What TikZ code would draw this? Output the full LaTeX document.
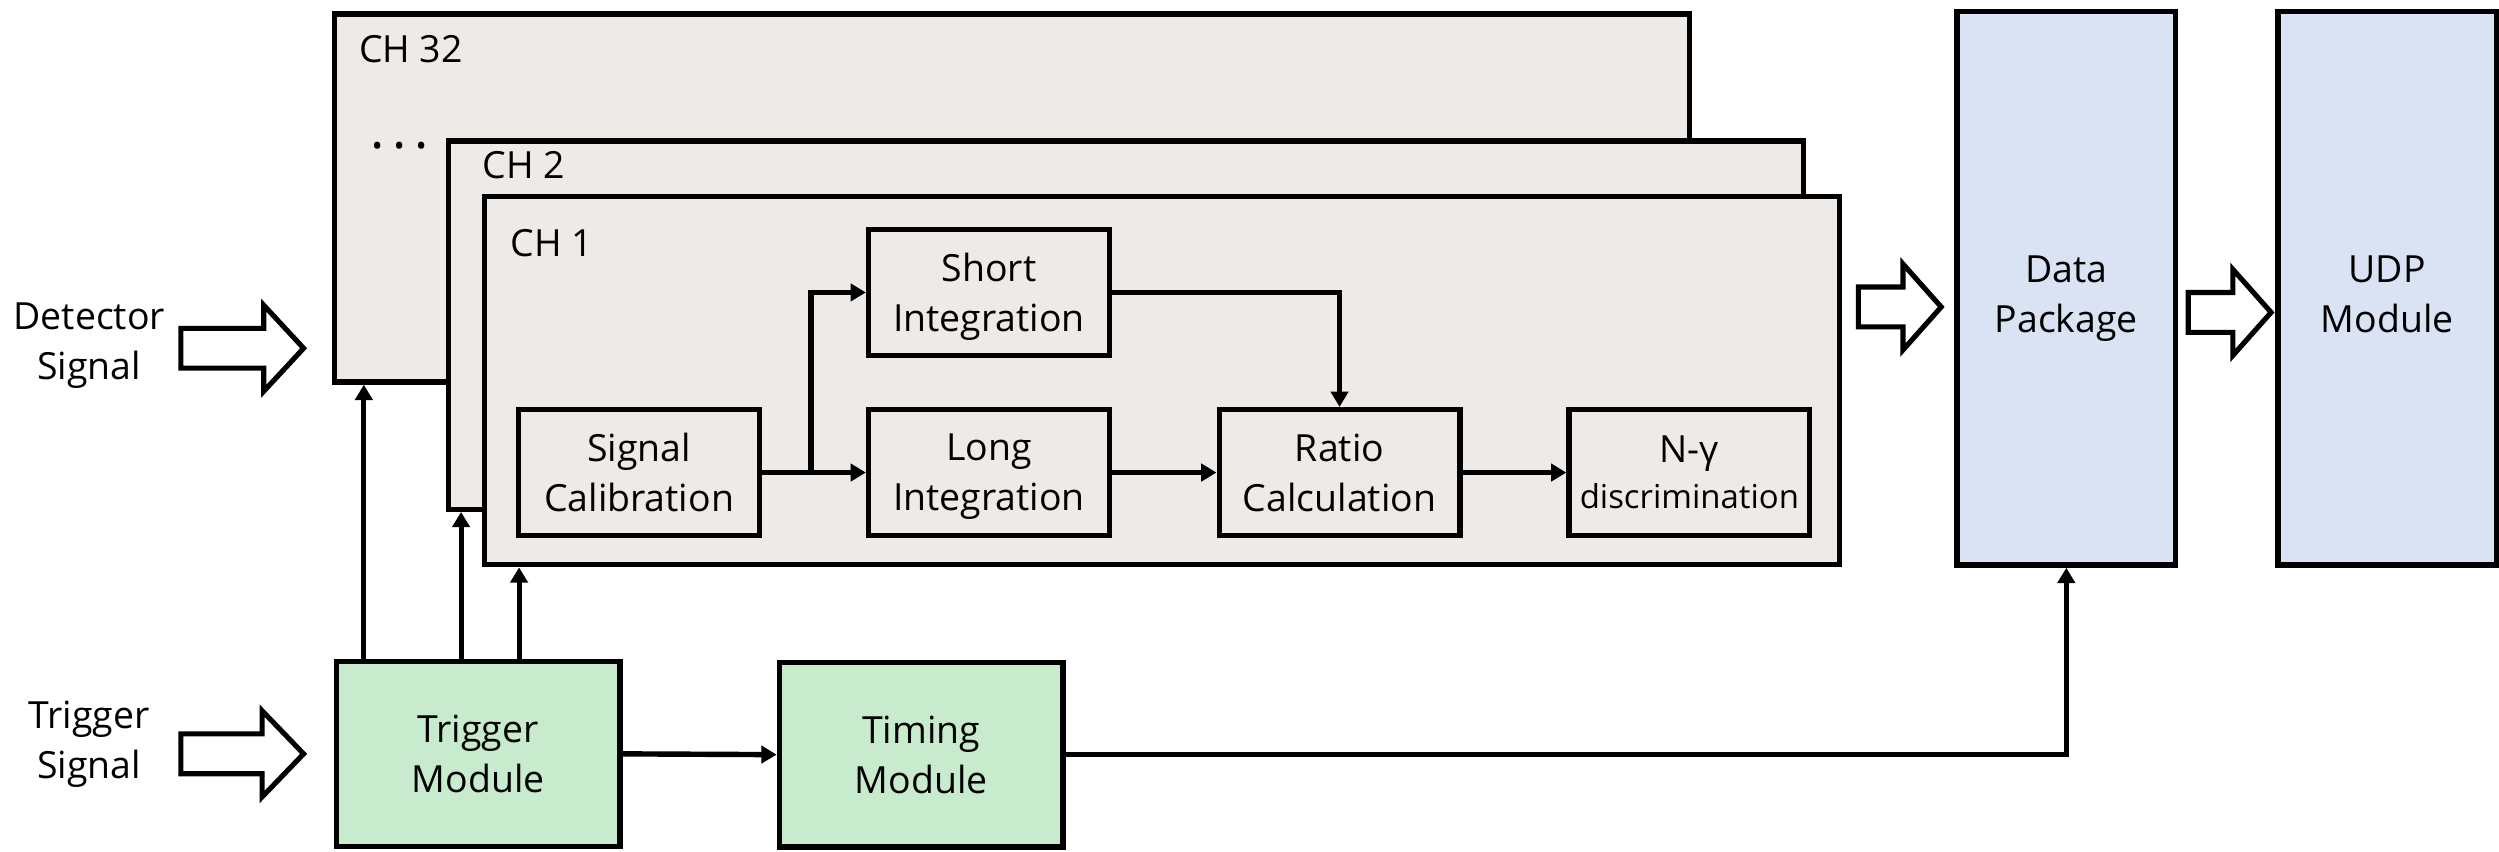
\documentclass[tikz,border=0pt]{standalone}
\usepackage{fontspec}
\setmainfont{Open Sans}
\usetikzlibrary{arrows.meta,calc}
\definecolor{chfill}{HTML}{EDEAE7}
\definecolor{pkgfill}{HTML}{DAE3F3}
\definecolor{trgfill}{HTML}{C7EBCC}
\tikzset{
  box/.style={draw, line width=0.85mm, align=center, inner sep=0pt, text depth=0pt},
  chbox/.style={box, fill=chfill, minimum width=212.5mm, minimum height=57.75mm},
  stage/.style={box, fill=chfill, minimum width=37.75mm, minimum height=19.75mm},
  tall/.style={box, fill=pkgfill, minimum width=34.25mm, minimum height=86.875mm},
  module/.style={box, fill=trgfill, minimum width=44.5mm, minimum height=29mm},
  chlabel/.style={anchor=base west, inner sep=0pt},
  lbl/.style={align=center, inner sep=0pt},
  link/.style={line width=0.85mm, -{Triangle[length=2.4mm,width=2.7mm]}},
  trig/.style={line width=0.8mm, -{Triangle[length=2.4mm,width=2.7mm]}},
  hollow/.style={draw, line width=0.8mm, fill=white},
  pics/blockarrow/.style 2 args={code={
    \draw[hollow] (0,-12.5) -- ({#1-#2},-12.5) -- ({#1-#2},-27) -- (#1,0)
      -- ({#1-#2},27) -- ({#1-#2},12.5) -- (0,12.5) -- cycle;}}
}
\begin{document}
\begin{tikzpicture}[x=0.25mm, y=-0.25mm, font=\fontsize{16.7}{22.3}\selectfont]
\useasboundingbox (0,0) rectangle (1568,534);

% stacked channel boxes
\node[chbox] (ch32) at (635,124.2) {};
\node[chlabel] (ch32lbl) at (225,39) {CH 32};
\node[chlabel] (dots) at (232.5,93) {\fontsize{24}{26}\selectfont .\kern3.4pt.\kern3.4pt.};
\node[chbox] (ch2) at (706.5,204) {};
\node[chlabel] (ch2lbl) at (302.5,111.8) {CH 2};
\node[chbox] (ch1) at (729,238.8) {};
\node[chlabel] (ch1lbl) at (320,161) {CH 1};

% processing chain inside CH 1
\node[stage] (short) at (620.5,183.5) {Short\\Integration};
\node[stage] (sig) at (401,296.5) {Signal\\Calibration};
\node[stage] (long) at (620.5,296.5) {Long\\Integration};
\node[stage] (ratio) at (840.5,296.5) {Ratio\\Calculation};
\node[stage] (ngam) at (1060,296.5) {N-γ\\[-0.6mm]{\fontsize{14.7}{19}\selectfont discrimination}};

\draw[link] (sig.east) -- (long.west);
\coordinate (split) at ($(sig.east)!0.47!(long.west)$);
\draw[link] (split) |- (short.west);
\draw[link] (short.east) -| (ratio.north);
\draw[link] (long.east) -- (ratio.west);
\draw[link] (ratio.east) -- (ngam.west);

% output side
\node[tall] (data) at (1296.5,180.8) {};
\node[lbl, text depth=0pt] (datalbl) at ([yshift=-1mm]data.center) {Data\\Package};
\node[tall] (udp) at (1497.8,180.8) {};
\node[lbl, text depth=0pt] (udplbl) at ([yshift=-1mm]udp.center) {UDP\\Module};

% trigger and timing
\node[module] (trg) at (300,473) {Trigger\\Module};
\node[module] (tim) at (578,473.5) {Timing\\Module};

\draw[trig] ([xshift=4.75mm]trg.north west) -- ([xshift=4.75mm]trg.north west |- ch32.south);
\draw[trig] ([xshift=20mm]trg.north west) -- ([xshift=20mm]trg.north west |- ch2.south);
\draw[trig] ([xshift=29.1mm]trg.north west) -- ([xshift=29.1mm]trg.north west |- ch1.south);
\draw[link] (trg.east) -- (tim.west);
\draw[link] (tim.east) -| (data.south);

% input labels and block arrows
\node[lbl] (detlbl) at (56,217) {Detector\\Signal};
\node[lbl] (trglbl) at (56,467) {Trigger\\Signal};
\pic at (113.5,218.5) {blockarrow={77}{25}};
\pic at (113.5,473) {blockarrow={77}{26}};
\pic at (1166,192.6) {blockarrow={52}{24}};
\pic at (1373,196) {blockarrow={52}{24}};
\end{tikzpicture}
\end{document}
